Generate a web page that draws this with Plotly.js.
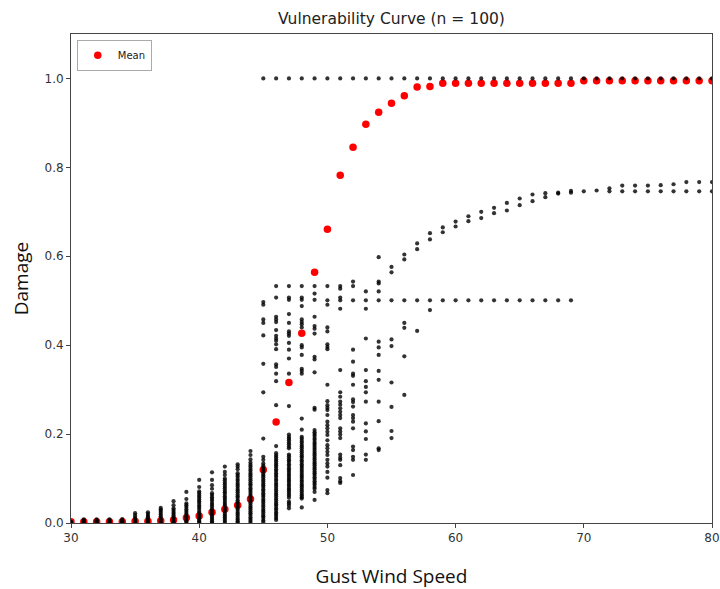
<!DOCTYPE html>
<html>
<head>
<meta charset="utf-8">
<script src="https://cdn.plot.ly/plotly-3.0.1.min.js"></script>
<style>html,body{margin:0;padding:0;background:#fff;}#chart{width:720px;height:589px;}</style>
</head>
<body>
<div id="chart"></div>
<script>
// Wind speeds and mean damage (red markers)
const speeds = [30,31,32,33,34,35,36,37,38,39,40,41,42,43,44,45,46,47,48,49,50,51,52,53,54,55,56,57,58,59,60,61,62,63,64,65,66,67,68,69,70,71,72,73,74,75,76,77,78,79,80];
const meanDamage = [0.003,0.003,0.003,0.003,0.003,0.004,0.004,0.005,0.007,0.012,0.016,0.024,0.031,0.040,0.054,0.120,0.227,0.316,0.427,0.564,0.661,0.782,0.845,0.897,0.924,0.944,0.961,0.981,0.982,0.989,0.989,0.989,0.989,0.989,0.989,0.989,0.989,0.989,0.989,0.989,0.995,0.995,0.995,0.995,0.995,0.995,0.995,0.995,0.995,0.995,0.995];

// Sampled damage values per wind speed (black markers)
const d30 = [0.000,0.001,0.002,0.003];
const d31 = [0.000,0.002,0.004,0.006,0.008];
const d32 = [0.000,0.002,0.004,0.006,0.008];
const d33 = [0.000,0.002,0.004,0.006,0.008];
const d34 = [0.000,0.002,0.004,0.006,0.009];
const d35 = [0.000,0.003,0.006,0.009,0.012,0.017,0.022];
const d36 = [0.000,0.003,0.006,0.009,0.013,0.016,0.020,0.024];
const d37 = [0.000,0.004,0.008,0.011,0.015,0.019,0.023,0.027,0.030,0.034];
const d38 = [0.049,0.040,0.033,0.029,0.025,0.021,0.017,0.013,0.009,0.005,0.002,0.000];
const d39 = [0.070,0.054,0.044,0.040,0.036,0.031,0.027,0.023,0.019,0.015,0.011,0.007,0.004,0.001];
const d40 = [0.097,0.081,0.071,0.067,0.062,0.058,0.053,0.049,0.045,0.040,0.036,0.032,0.027,0.023,0.019,0.015,0.011,0.007,0.004,0.001];
const d41 = [0.114,0.097,0.085,0.077,0.067,0.063,0.058,0.054,0.050,0.045,0.041,0.037,0.032,0.028,0.024,0.020,0.016,0.012,0.008,0.004,0.001];
const d42 = [0.127,0.115,0.108,0.100,0.096,0.091,0.087,0.082,0.078,0.073,0.069,0.065,0.060,0.056,0.052,0.047,0.043,0.039,0.034,0.030,0.026,0.021,0.017,0.013,0.009,0.005,0.001];
const d43 = [0.132,0.127,0.121,0.112,0.108,0.104,0.099,0.095,0.090,0.086,0.082,0.077,0.073,0.069,0.064,0.060,0.056,0.051,0.047,0.043,0.038,0.034,0.030,0.025,0.021,0.017,0.012,0.008,0.004,0.001];
const d44 = [0.162,0.153,0.143,0.136,0.131,0.127,0.122,0.118,0.113,0.109,0.105,0.100,0.096,0.091,0.087,0.083,0.078,0.074,0.070,0.065,0.061,0.057,0.052,0.048,0.044,0.039,0.035,0.031,0.026,0.022,0.018,0.013,0.009,0.005,0.001];
const d45 = [1.000,0.497,0.491,0.458,0.450,0.422,0.358,0.294,0.190,0.149,0.142,0.134,0.129,0.125,0.120,0.116,0.111,0.107,0.103,0.098,0.094,0.089,0.085,0.081,0.076,0.072,0.067,0.063,0.059,0.054,0.050,0.046,0.041,0.037,0.032,0.028,0.024,0.019,0.015,0.011,0.006,0.002];
const d46 = [1.000,0.533,0.507,0.464,0.458,0.452,0.434,0.421,0.415,0.410,0.402,0.391,0.357,0.351,0.336,0.319,0.265,0.173,0.157,0.152,0.148,0.143,0.139,0.134,0.130,0.126,0.121,0.117,0.112,0.108,0.104,0.099,0.095,0.090,0.086,0.082,0.077,0.073,0.068,0.064,0.060,0.055,0.051,0.046,0.042,0.038,0.033,0.029,0.024,0.020,0.016,0.011,0.007];
const d47 = [1.000,0.533,0.507,0.502,0.470,0.450,0.431,0.426,0.421,0.405,0.390,0.370,0.336,0.263,0.199,0.194,0.190,0.186,0.181,0.177,0.172,0.168,0.154,0.150,0.145,0.141,0.137,0.132,0.128,0.123,0.119,0.115,0.110,0.106,0.101,0.097,0.093,0.088,0.084,0.079,0.075,0.071,0.066,0.062,0.057,0.048,0.044,0.039,0.033];
const d48 = [1.000,0.533,0.507,0.502,0.488,0.458,0.452,0.447,0.440,0.400,0.395,0.378,0.347,0.342,0.336,0.235,0.210,0.194,0.190,0.185,0.181,0.176,0.172,0.168,0.163,0.159,0.154,0.150,0.146,0.141,0.137,0.132,0.128,0.124,0.119,0.115,0.110,0.106,0.102,0.097,0.093,0.088,0.084,0.080,0.075,0.071,0.066,0.062,0.058,0.055,0.035];
const d49 = [1.000,0.533,0.516,0.502,0.464,0.443,0.437,0.426,0.374,0.368,0.339,0.259,0.255,0.209,0.204,0.200,0.196,0.191,0.187,0.182,0.178,0.174,0.169,0.165,0.160,0.156,0.152,0.147,0.143,0.138,0.134,0.130,0.125,0.121,0.116,0.112,0.108,0.103,0.099,0.094,0.090,0.086,0.081,0.077,0.070,0.052];
const d50 = [1.000,0.533,0.501,0.491,0.440,0.431,0.402,0.396,0.391,0.311,0.274,0.265,0.259,0.254,0.243,0.228,0.220,0.213,0.205,0.198,0.186,0.175,0.168,0.160,0.153,0.142,0.134,0.127,0.115,0.102,0.074,0.067];
const d51 = [1.000,0.533,0.527,0.507,0.501,0.482,0.344,0.294,0.284,0.273,0.266,0.258,0.250,0.243,0.236,0.213,0.206,0.199,0.191,0.154,0.147,0.142,0.130,0.101,0.094,0.090];
const d52 = [1.000,0.543,0.533,0.501,0.390,0.363,0.336,0.331,0.311,0.278,0.272,0.262,0.243,0.236,0.228,0.213,0.172,0.164,0.149,0.142,0.108];
const d53 = [1.000,0.521,0.501,0.482,0.415,0.344,0.319,0.306,0.294,0.273,0.224,0.206,0.189,0.154,0.142];
const d54 = [1.000,0.598,0.543,0.539,0.521,0.501,0.408,0.395,0.378,0.342,0.322,0.273,0.229,0.168,0.164];
const d55 = [1.000,0.576,0.564,0.501,0.413,0.398,0.316,0.261,0.207,0.191];
const d56 = [1.000,0.604,0.593,0.501,0.450,0.439,0.375,0.288];
const d57 = [1.000,0.629,0.616,0.501,0.432];
const d58 = [1.000,0.652,0.638,0.501,0.479];
const d59 = [1.000,0.665,0.654,0.501];
const d60 = [1.000,0.678,0.667,0.501];
const d61 = [1.000,0.690,0.679,0.501];
const d62 = [1.000,0.700,0.686,0.501];
const d63 = [1.000,0.709,0.697,0.501];
const d64 = [1.000,0.720,0.703,0.501];
const d65 = [1.000,0.730,0.715,0.501];
const d66 = [1.000,0.739,0.724,0.501];
const d67 = [1.000,0.742,0.733,0.501];
const d68 = [1.000,0.743,0.741,0.501];
const d69 = [1.000,0.747,0.743,0.501];
const d70 = [1.000,0.746];
const d71 = [1.000,0.748];
const d72 = [1.000,0.753,0.746];
const d73 = [1.000,0.759,0.746];
const d74 = [1.000,0.759,0.746];
const d75 = [1.000,0.759,0.746];
const d76 = [1.000,0.760,0.746];
const d77 = [1.000,0.762,0.746];
const d78 = [1.000,0.767,0.746];
const d79 = [1.000,0.767,0.746];
const d80 = [1.000,0.767,0.746];
const sampleSets = [d30,d31,d32,d33,d34,d35,d36,d37,d38,d39,d40,d41,d42,d43,d44,d45,d46,d47,d48,d49,d50,d51,d52,d53,d54,d55,d56,d57,d58,d59,d60,d61,d62,d63,d64,d65,d66,d67,d68,d69,d70,d71,d72,d73,d74,d75,d76,d77,d78,d79,d80];

const xTicks = [30,40,50,60,70,80];
const yTicks = [0.0,0.2,0.4,0.6,0.8,1.0];
const yTickText = ['0.0','0.2','0.4','0.6','0.8','1.0'];

const sx = [], sy = [];
sampleSets.forEach((arr, i) => { arr.forEach(v => { sx.push(speeds[i]); sy.push(v); }); });

const traces = [
  {x: speeds, y: meanDamage, type: 'scatter', mode: 'markers', name: 'Mean',
   marker: {color: '#ff0000', size: 7.5}, showlegend: true},
  {x: sx, y: sy, type: 'scatter', mode: 'markers', name: 'Samples',
   marker: {color: 'rgba(0,0,0,0.8)', size: 4.2}, showlegend: false}
];

const axisCommon = {showgrid: false, zeroline: false, showline: true, mirror: true,
  linecolor: '#444', linewidth: 1, ticks: 'outside', ticklen: 4, tickcolor: '#444',
  tickfont: {family: 'DejaVu Sans', size: 12, color: '#333'}};

const layout = {
  width: 720, height: 589,
  margin: {l: 71, r: 8, t: 34, b: 66},
  paper_bgcolor: '#fff', plot_bgcolor: '#fff',
  title: {text: 'Vulnerability Curve (n = 100)', xref: 'paper', x: 0.5, xanchor: 'center', y: 0.968, yanchor: 'middle',
    font: {family: 'DejaVu Sans', size: 15.5, color: '#222'}},
  xaxis: Object.assign({}, axisCommon, {range: [30, 80], tickvals: xTicks,
    title: {text: 'Gust Wind Speed', font: {family: 'Open Sans', size: 19, color: '#111'}, standoff: 25}}),
  yaxis: Object.assign({}, axisCommon, {range: [0, 1.1], tickvals: yTicks, ticktext: yTickText,
    title: {text: 'Damage', font: {family: 'Open Sans', size: 19, color: '#111'}, standoff: 10}}),
  legend: {x: 0.009, y: 0.988, xanchor: 'left', yanchor: 'top', bgcolor: '#fff',
    bordercolor: '#aaa', borderwidth: 1, font: {family: 'DejaVu Sans', size: 10, color: '#222'},
    itemwidth: 30, tracegroupgap: 0}
};

Plotly.newPlot('chart', traces, layout, {displayModeBar: false, staticPlot: true});
</script>
</body>
</html>
